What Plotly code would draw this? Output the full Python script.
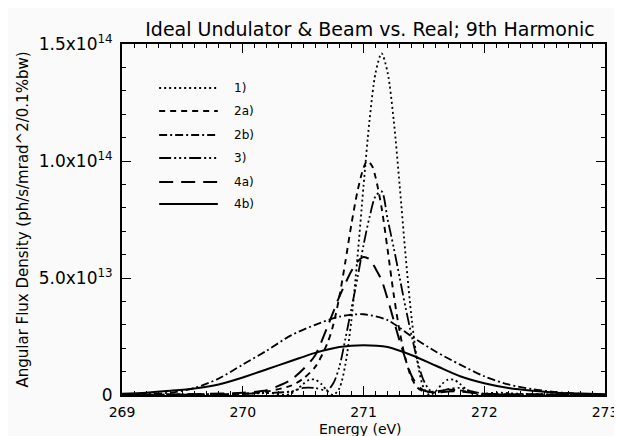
import plotly.graph_objects as go

# ---------------- data (flux in units of 1e13 ph/s/mrad^2/0.1%bw) ----------------
SCALE = 1e13

e_1 = [269.0, 269.5, 270.0, 270.2, 270.35, 270.4, 270.45, 270.5, 270.55, 270.6, 270.65, 270.7,
       270.75, 270.8, 270.85, 270.9, 270.95, 271.0, 271.05, 271.1, 271.15, 271.2, 271.25, 271.3,
       271.35, 271.4, 271.45, 271.5, 271.55, 271.6, 271.65, 271.7, 271.75, 271.8, 271.85, 271.9,
       271.95, 272.0, 272.1, 272.3, 273.0]
f_1 = [0.0, 0.02, 0.05, 0.1, 0.0, 0.06, 0.24, 0.47, 0.65, 0.66, 0.47, 0.17,
       0.0, 0.28, 1.31, 3.21, 5.88, 8.92, 11.75, 13.77, 14.6, 13.77, 11.75, 8.92,
       5.88, 3.21, 1.31, 0.28, 0.0, 0.17, 0.47, 0.66, 0.65, 0.47, 0.24, 0.06,
       0.0, 0.05, 0.1, 0.05, 0.0]

e_2a = [269.0, 269.5, 270.0, 270.2, 270.4, 270.5, 270.6, 270.7, 270.75, 270.8, 270.85, 270.9,
        270.95, 271.0, 271.03, 271.07, 271.1, 271.15, 271.2, 271.25, 271.3, 271.35, 271.4,
        271.45, 271.5, 271.6, 271.7, 271.8, 271.9, 272.0, 272.5, 273.0]
f_2a = [0.0, 0.02, 0.05, 0.15, 0.4, 0.7, 1.2, 2.2, 3.0, 4.2, 5.7, 7.3,
        8.7, 9.7, 10.0, 9.8, 9.3, 8.0, 6.2, 4.3, 2.7, 1.5, 0.7,
        0.3, 0.15, 0.15, 0.22, 0.2, 0.1, 0.05, 0.02, 0.0]

e_2b = [269.0, 269.2, 269.4, 269.6, 269.8, 270.0, 270.2, 270.4, 270.6, 270.8, 271.0, 271.2,
        271.4, 271.6, 271.8, 272.0, 272.2, 272.4, 272.6, 272.8, 273.0]
f_2b = [0.02, 0.05, 0.1, 0.3, 0.7, 1.3, 1.9, 2.55, 3.0, 3.35, 3.45, 3.2,
        2.5, 1.85, 1.3, 0.8, 0.45, 0.25, 0.12, 0.05, 0.02]

e_3 = [269.0, 269.5, 270.0, 270.4, 270.5, 270.6, 270.7, 270.75, 270.8, 270.85, 270.9, 270.95,
       271.0, 271.05, 271.1, 271.15, 271.2, 271.25, 271.3, 271.35, 271.4, 271.45, 271.5,
       271.55, 271.6, 271.7, 271.8, 271.9, 272.0, 272.5, 273.0]
f_3 = [0.0, 0.02, 0.05, 0.15, 0.3, 0.3, 0.2, 0.5, 1.2, 2.4, 3.7, 5.0,
       6.4, 7.6, 8.5, 8.7, 7.5, 6.3, 5.0, 3.7, 2.5, 1.4, 0.6,
       0.2, 0.1, 0.25, 0.3, 0.15, 0.05, 0.02, 0.0]

e_4a = [269.0, 269.5, 270.0, 270.2, 270.3, 270.4, 270.5, 270.6, 270.7, 270.8, 270.9, 270.95,
        271.0, 271.05, 271.1, 271.15, 271.2, 271.25, 271.3, 271.35, 271.4, 271.45, 271.5,
        271.6, 271.7, 271.8, 272.0, 272.5, 273.0]
f_4a = [0.0, 0.03, 0.1, 0.2, 0.4, 0.65, 1.1, 1.7, 2.9, 4.2, 5.3, 5.7,
        5.9, 5.8, 5.4, 4.9, 4.1, 3.2, 2.3, 1.5, 0.8, 0.4, 0.2,
        0.1, 0.15, 0.15, 0.05, 0.02, 0.0]

e_4b = [269.0, 269.2, 269.4, 269.6, 269.8, 270.0, 270.2, 270.4, 270.6, 270.8, 271.0, 271.2,
        271.4, 271.6, 271.8, 272.0, 272.2, 272.4, 272.6, 272.8, 273.0]
f_4b = [0.05, 0.1, 0.18, 0.28, 0.45, 0.75, 1.1, 1.45, 1.8, 2.05, 2.13, 2.05,
        1.7, 1.25, 0.8, 0.5, 0.3, 0.18, 0.1, 0.06, 0.03]

labels = ["1)", "2a)", "2b)", "3)", "4a)", "4b)"]
energies = [e_1, e_2a, e_2b, e_3, e_4a, e_4b]
fluxes = [f_1, f_2a, f_2b, f_3, f_4a, f_4b]

y_tickvals = [0, 5e13, 1e14, 1.5e14]
y_ticktext = ["0", "5.0x10<sup>13</sup>", "1.0x10<sup>14</sup>", "1.5x10<sup>14</sup>"]
x_tickvals = [269, 270, 271, 272, 273]

# ---------------- styling ----------------
dashes = ["2px,3px", "6px,5px", "8px,3px,2px,3px", "12px,3px,2px,3px,2px,3px,2px,3px",
          "14px,8px", "solid"]
widths = [1.8, 1.9, 1.8, 1.8, 2.0, 2.0]
FONT = "DejaVu Sans"
BG = "#fafafa"

fig = go.Figure()
for lab, ex, fx, d, w in zip(labels, energies, fluxes, dashes, widths):
    fig.add_trace(go.Scatter(
        x=ex, y=[v * SCALE for v in fx], mode="lines", name=lab,
        line=dict(color="black", width=w, dash=d, shape="spline", smoothing=0.8),
        showlegend=False, cliponaxis=True))

# custom legend (long sample lines like the original)
L, R, T, B = 114, 608, 36, 387
W, H = R - L, B - T
row_y = [80, 103, 127, 150, 174, 196]
for lab, d, w, py in zip(labels, dashes, widths, row_y):
    yp = (B - py) / H
    fig.add_shape(type="line", xref="paper", yref="paper",
                  x0=(152 - L) / W, x1=(212 - L) / W, y0=yp, y1=yp,
                  line=dict(color="black", width=w, dash=d))
    fig.add_annotation(xref="paper", yref="paper", x=(226 - L) / W, y=yp,
                       text=lab, showarrow=False, xanchor="left", yanchor="middle",
                       font=dict(family=FONT, size=12, color="black"))

# x-axis title placed explicitly near the bottom edge
fig.add_annotation(xref="paper", yref="paper", x=(358 - L) / W, y=(B - 421) / H,
                   text="Energy (eV)", showarrow=False, xanchor="center", yanchor="middle",
                   font=dict(family=FONT, size=14, color="black"))

fig.update_layout(
    width=622, height=436,
    margin=dict(l=L, r=622 - R, t=T, b=436 - B),
    paper_bgcolor=BG, plot_bgcolor=BG,
    font=dict(family=FONT, color="black"),
    title=dict(text="Ideal Undulator &amp; Beam vs. Real; 9th Harmonic",
               x=362 / 622, xanchor="center", y=1 - 21 / 436, yanchor="middle",
               font=dict(family=FONT, size=19, color="black")),
    showlegend=False,
)
fig.update_xaxes(
    range=[269, 273], tickvals=x_tickvals, ticktext=[str(v) for v in x_tickvals],
    showline=True, linecolor="black", linewidth=2, mirror="ticks",
    ticks="inside", ticklen=9, tickwidth=1.2, tickcolor="black",
    minor=dict(dtick=0.1, ticks="inside", ticklen=4, tickcolor="black", tickwidth=1),
    showgrid=False, zeroline=False, ticklabelstandoff=3, ticklabeloverflow="allow",
    tickfont=dict(family=FONT, size=14),
)
fig.update_yaxes(
    range=[0, 1.5e14], tickvals=y_tickvals, ticktext=y_ticktext,
    showline=True, linecolor="black", linewidth=2, mirror="ticks",
    ticks="inside", ticklen=9, tickwidth=1.2, tickcolor="black",
    minor=dict(dtick=1e13, ticks="inside", ticklen=4, tickcolor="black", tickwidth=1),
    showgrid=False, zeroline=False, ticklabelstandoff=4,
    tickfont=dict(family=FONT, size=17),
    title=dict(text="Angular Flux Density (ph/s/mrad^2/0.1%bw)",
               font=dict(family=FONT, size=15), standoff=6),
)

fig.write_html("out.html")
